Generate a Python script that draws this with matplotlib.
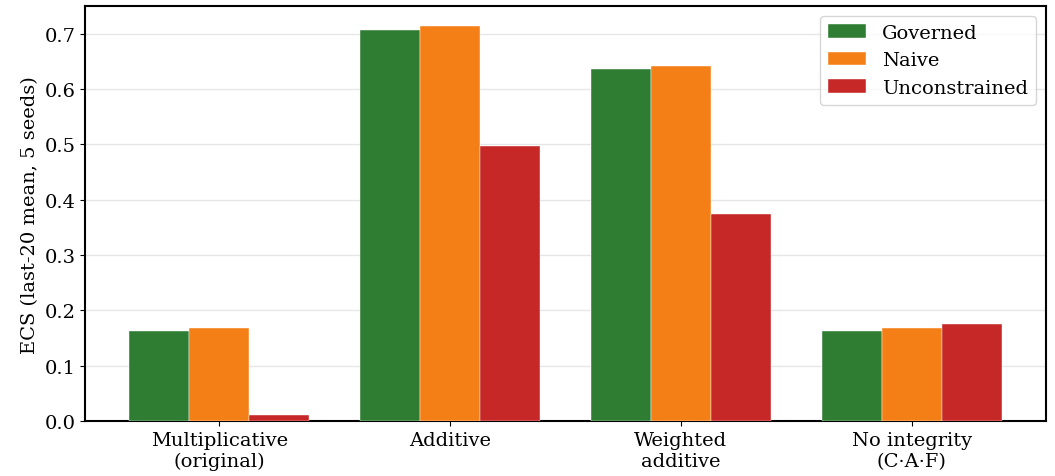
import numpy as np
import matplotlib
matplotlib.use("Agg")
import matplotlib.pyplot as plt

plt.rcParams["font.family"] = "DejaVu Serif"
plt.rcParams["font.size"] = 14

# ECS scores per scoring variant
variants = ["Multiplicative\n(original)", "Additive", "Weighted\nadditive", "No integrity\n(C\u00b7A\u00b7F)"]
governed = [0.163, 0.707, 0.637, 0.163]
naive = [0.168, 0.714, 0.642, 0.168]
unconstrained = [0.011, 0.497, 0.374, 0.175]

series = [
    ("Governed", governed, "#2e7d32"),
    ("Naive", naive, "#f57f17"),
    ("Unconstrained", unconstrained, "#c62828"),
]

width = 0.26
x = np.arange(len(variants))

fig, ax = plt.subplots(figsize=(10.55, 4.77), dpi=100)

for i, (name, vals, color) in enumerate(series):
    ax.bar(x + (i - 1) * width, vals, width, label=name, color=color,
           edgecolor="white", linewidth=0.3, zorder=3)

ax.set_xticks(x)
ax.set_xticklabels(variants)
ax.set_ylabel("ECS (last-20 mean, 5 seeds)")
ax.set_ylim(0, 0.75)
ax.grid(axis="y", color="#e6e6e6", linewidth=1, zorder=0)
for sp in ax.spines.values():
    sp.set_linewidth(1.5)
ax.legend(loc="upper right")

fig.subplots_adjust(left=0.081, right=0.991, top=0.985, bottom=0.115)
fig.savefig("out.png", dpi=100)
